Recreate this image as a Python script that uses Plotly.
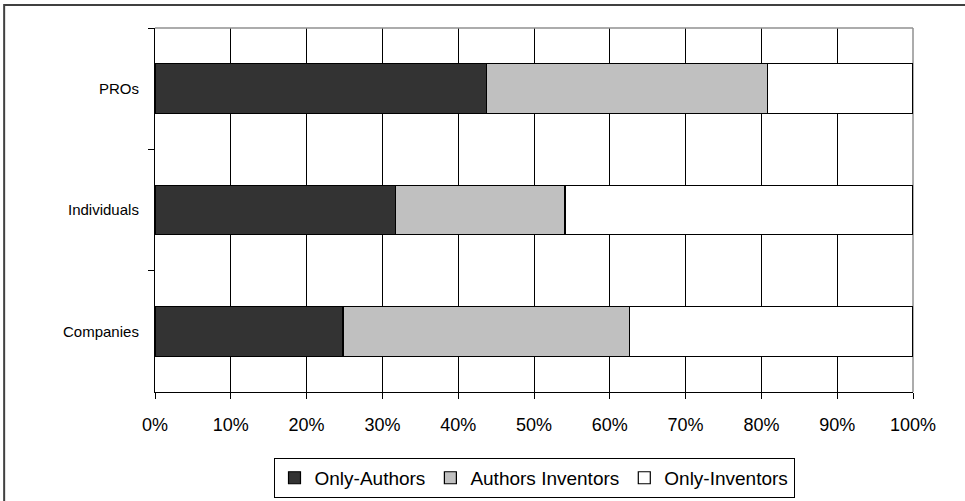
import plotly.graph_objects as go

categories = ["PROs", "Individuals", "Companies"]
only_authors = [43.7, 31.7, 24.8]
authors_inventors = [37.1, 22.4, 37.8]
only_inventors = [19.2, 45.9, 37.4]
series_names = ["Only-Authors", "Authors Inventors", "Only-Inventors"]
series_colors = ["#333333", "#C0C0C0", "#FFFFFF"]
x_ticks = [0, 10, 20, 30, 40, 50, 60, 70, 80, 90, 100]
x_ticklabels = [f"{v}%" for v in x_ticks]

FONT = "Arial, 'Liberation Sans', sans-serif"

fig = go.Figure()
for name, vals, col in zip(series_names, [only_authors, authors_inventors, only_inventors], series_colors):
    fig.add_trace(go.Bar(
        y=categories, x=vals, name=name, orientation="h",
        marker=dict(color=col, line=dict(color="#000000", width=1.2)),
    ))

fig.update_layout(
    width=965, height=501,
    margin=dict(l=155, r=52, t=28, b=109, autoexpand=False),
    paper_bgcolor="white", plot_bgcolor="white",
    barmode="stack", bargap=0.59,
    font=dict(family=FONT, size=16, color="#000000"),
    showlegend=True,
    legend=dict(
        orientation="h", x=0.5, xanchor="center",
        yref="container", y=0.086, yanchor="top",
        bordercolor="#000000", borderwidth=1, bgcolor="white",
        font=dict(family=FONT, size=19, color="#000000"),
        itemwidth=30, traceorder="normal",
    ),
    xaxis=dict(
        range=[0, 100], tickvals=x_ticks, ticktext=x_ticklabels,
        showgrid=True, gridcolor="#000000", gridwidth=1.2,
        showline=True, linecolor="#000000", linewidth=1.2,
        ticks="outside", ticklen=6, tickcolor="#000000", tickwidth=1.2,
        ticklabelstandoff=10, zeroline=False, automargin=False,
        tickfont=dict(family=FONT, size=18),
    ),
    yaxis=dict(
        categoryorder="array", categoryarray=categories, autorange="reversed",
        showgrid=False, showline=True, linecolor="#000000", linewidth=1.2,
        ticks="outside", tickson="boundaries", ticklen=6, tickcolor="#000000", tickwidth=1.2,
        ticklabelstandoff=12, zeroline=False, automargin=False,
        tickfont=dict(family=FONT, size=15),
    ),
)

# plot-area border (top and right), gray
fig.add_shape(type="line", xref="paper", yref="paper", x0=0, x1=1, y0=1, y1=1,
              line=dict(color="#909090", width=1.5), layer="above")
fig.add_shape(type="line", xref="paper", yref="paper", x0=1, x1=1, y0=0, y1=1,
              line=dict(color="#909090", width=1.5), layer="below")
# outer chart border (left and top edges visible)
fig.add_shape(type="rect", xref="paper", yref="paper", x0=-0.199, x1=1.3, y0=-0.6, y1=1.063,
              line=dict(color="#404040", width=2), layer="below")

fig.write_html("out.html", config={"displayModeBar": False},
               post_script="document.body.style.margin='0';")
